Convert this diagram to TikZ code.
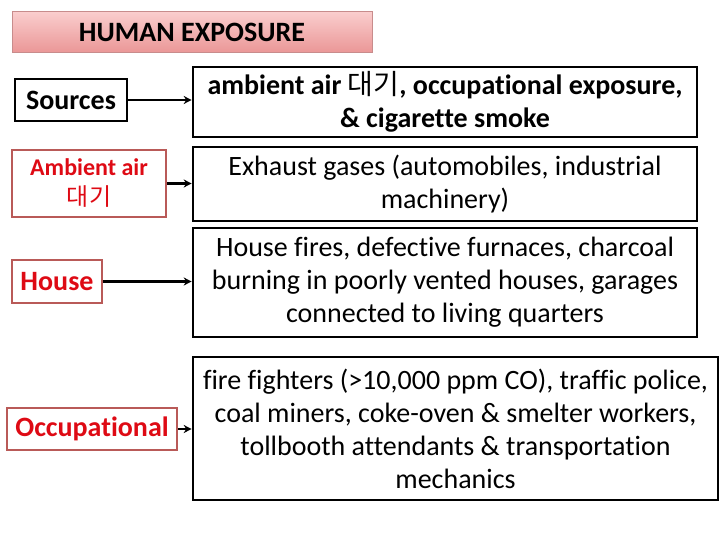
\documentclass[tikz,border=0pt]{standalone}
\usepackage{fontspec}
\setmainfont{Carlito}[Ligatures=NoCommon]
\newfontfamily\kr{Noto Sans CJK KR}
\usetikzlibrary{arrows.meta}
\definecolor{redtxt}{RGB}{222,10,20}
\definecolor{redline}{RGB}{185,90,88}
\definecolor{titletop}{RGB}{250,205,205}
\definecolor{titlebot}{RGB}{234,150,150}
\definecolor{titleline}{RGB}{200,140,140}
\tikzset{
  bigbox/.style={draw=black, line width=2.6pt, align=center, inner sep=0pt, font=\fontsize{28}{33}\selectfont},
  srcbox/.style={draw=redline, line width=2.6pt, align=center, inner sep=0pt, text=redtxt, font=\bfseries\fontsize{28}{32}\selectfont},
  arr/.style={-{Stealth[length=8pt,width=8pt]}, line width=2.5pt, black},
}
\begin{document}
\begin{tikzpicture}[x=1pt,y=-1pt]
\useasboundingbox (0,0) rectangle (720,540);
\node[draw=titleline, line width=1pt, top color=titletop, bottom color=titlebot, minimum width=360pt, minimum height=41pt, inner sep=0pt, font=\bfseries\fontsize{28}{32}\selectfont] (title) at (192,32.5) {HUMAN EXPOSURE};

\node[srcbox, draw=black, text=black, minimum width=112pt, minimum height=42pt] (src) at (71,100) {Sources};
\node[bigbox, minimum width=504pt, minimum height=70pt, font=\bfseries\fontsize{28}{33}\selectfont] (b1) at (445,102) {ambient air {\mdseries\kr 대기}, occupational exposure,\\ \& cigarette smoke};

\node[srcbox, minimum width=154pt, minimum height=67pt] (amb) at (89,183.5) {\raisebox{-3pt}{\fontsize{24}{28}\selectfont Ambient air}\\[1pt] {\mdseries\kr\fontsize{24}{28}\selectfont 대기}};
\node[bigbox, minimum width=504pt, minimum height=74pt] (b2) at (445,184) {Exhaust gases (automobiles, industrial\\ machinery)};

\node[srcbox, minimum width=90pt, minimum height=43pt] (house) at (57,281.5) {House};
\node[bigbox, minimum width=504pt, minimum height=109pt] (b3) at (445,282.5) {House fires, defective furnaces, charcoal\\ burning in poorly vented houses, garages\\ connected to living quarters};

\node[srcbox, minimum width=170pt, minimum height=42pt] (occ) at (92,429) {Occupational};
\node[bigbox, minimum width=525pt, minimum height=143pt] (b4) at (455.5,428.5) {fire fighters (>10,000 ppm CO), traffic police,\\ coal miners, coke-oven \& smelter workers,\\ tollbooth attendants \& transportation\\ mechanics};

\draw[arr] (src.east) -- (src.east -| b1.west);
\draw[arr] (amb.east) -- (amb.east -| b2.west);
\draw[arr] (house.east) -- (house.east -| b3.west);
\draw[arr] (occ.east) -- (occ.east -| b4.west);
\end{tikzpicture}
\end{document}
